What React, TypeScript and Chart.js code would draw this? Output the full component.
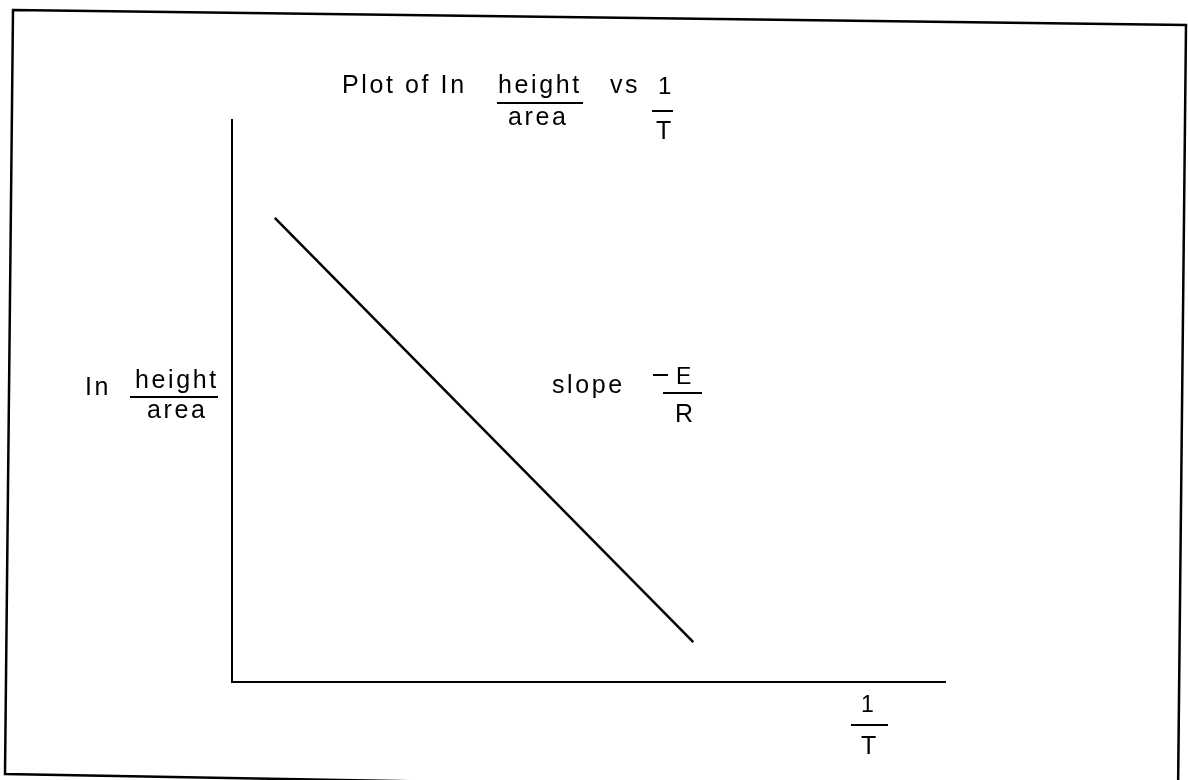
import React, { useEffect, useRef } from "react";
import { Chart, registerables } from "chart.js";

Chart.register(...registerables);

// Data: straight line ln(height/area) vs 1/T (arbitrary units)
const xValues = [0.6, 6.47];
const yValues = [8.26, 0.71];
const xRange = [0, 10];
const yRange = [0, 10];

const FONT = '"Liberation Sans", Arial, sans-serif';

function drawText(ctx: CanvasRenderingContext2D, text: string, x: number, y: number, size = 25, spacing = 2.6) {
  ctx.font = `${size}px ${FONT}`;
  (ctx as any).letterSpacing = `${spacing}px`;
  ctx.fillText(text, x, y);
}

function hline(ctx: CanvasRenderingContext2D, x1: number, x2: number, y: number, w = 2) {
  ctx.beginPath();
  ctx.lineWidth = w;
  ctx.moveTo(x1, y);
  ctx.lineTo(x2, y);
  ctx.stroke();
}

const annotations = {
  id: "annotations",
  afterDraw(chart: any) {
    const ctx: CanvasRenderingContext2D = chart.ctx;
    ctx.save();
    ctx.fillStyle = "#000";
    ctx.strokeStyle = "#000";
    ctx.textAlign = "left";
    ctx.textBaseline = "alphabetic";

    // Outer (slightly skewed) frame
    ctx.beginPath();
    ctx.lineWidth = 2.5;
    ctx.moveTo(13, 10);
    ctx.lineTo(1186, 25);
    ctx.lineTo(1178, 795);
    ctx.lineTo(5, 774);
    ctx.closePath();
    ctx.stroke();

    // Title: Plot of In height/area vs 1/T
    drawText(ctx, "Plot of In", 342, 93);
    drawText(ctx, "height", 498, 93);
    hline(ctx, 497, 583, 103);
    drawText(ctx, "area", 508, 125);
    drawText(ctx, "vs", 610, 93);
    drawText(ctx, "1", 658, 94, 24, 0);
    hline(ctx, 652, 673, 111);
    drawText(ctx, "T", 656, 139, 25, 0);

    // Y-axis label: In height/area
    drawText(ctx, "In", 85, 395);
    drawText(ctx, "height", 135, 388);
    hline(ctx, 130, 218, 397);
    drawText(ctx, "area", 147, 418);

    // slope -E/R
    drawText(ctx, "slope", 552, 393);
    hline(ctx, 653, 668, 375);
    drawText(ctx, "E", 676, 384, 23, 0);
    hline(ctx, 663, 702, 393);
    drawText(ctx, "R", 675, 422, 25, 0);

    // X-axis label: 1/T
    drawText(ctx, "1", 861, 712, 23, 0);
    hline(ctx, 851, 888, 725);
    drawText(ctx, "T", 861, 754, 25, 0);

    ctx.restore();
  },
};

export default function App() {
  const ref = useRef<HTMLCanvasElement>(null);
  useEffect(() => {
    document.body.style.margin = "0";
    const chart = new Chart(ref.current as HTMLCanvasElement, {
      type: "scatter",
      data: {
        datasets: [
          {
            data: xValues.map((x, i) => ({ x, y: yValues[i] })),
            showLine: true,
            borderColor: "#000",
            borderWidth: 2.5,
            pointRadius: 0,
            fill: false,
          },
        ],
      },
      options: {
        responsive: false,
        animation: false,
        layout: { padding: { left: 232, top: 120, right: 243, bottom: 98 } },
        plugins: { legend: { display: false }, tooltip: { enabled: false }, title: { display: false } },
        scales: {
          x: {
            type: "linear",
            min: xRange[0],
            max: xRange[1],
            grid: { display: false, drawTicks: false },
            ticks: { display: false },
            border: { display: true, color: "#000", width: 2 },
          },
          y: {
            type: "linear",
            min: yRange[0],
            max: yRange[1],
            grid: { display: false, drawTicks: false },
            ticks: { display: false },
            border: { display: true, color: "#000", width: 2 },
          },
        },
      },
      plugins: [annotations],
    });
    return () => chart.destroy();
  }, []);
  return (
    <div style={{ position: "absolute", left: 0, top: 0, width: 1188, height: 780, background: "#fff" }}>
      <canvas ref={ref} width={1188} height={780} />
    </div>
  );
}
